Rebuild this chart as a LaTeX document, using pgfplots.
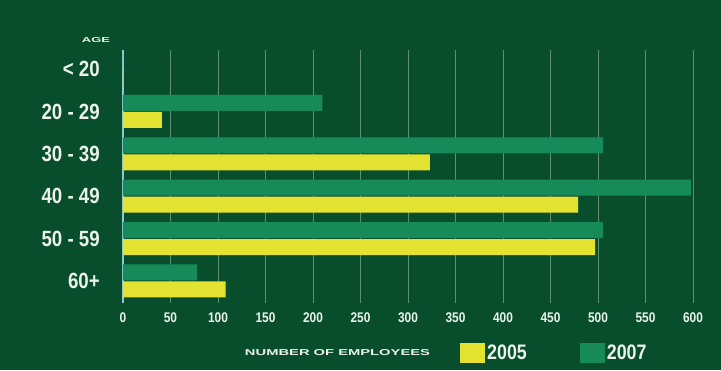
\documentclass[border=0pt]{standalone}
\usepackage{fontspec}
\setmainfont{Liberation Sans}
\newfontfamily\cf{Liberation Sans}[FakeStretch=0.85]
\usepackage{pgfplots}
\pgfplotsset{compat=1.18}
\definecolor{bg}{RGB}{9,78,44}
\definecolor{gbar}{RGB}{22,138,88}
\definecolor{ybar}{RGB}{228,226,48}
\definecolor{gridc}{RGB}{95,145,110}
\definecolor{zeroc}{RGB}{140,200,205}
\definecolor{txt}{RGB}{235,242,235}
\begin{document}
\begin{tikzpicture}
\fill[bg] (-123pt,-67pt) rectangle (598pt,303pt);
\begin{axis}[
  scale only axis, width=570pt, height=253pt,
  xmin=0, xmax=600, ymin=-0.52, ymax=5.45,
  xbar, bar width=16pt,
  axis line style={draw=none},
  major tick length=0pt,
  xtick={50,100,...,600},
  extra x ticks={0},
  extra x tick style={grid style={draw=zeroc, line width=1.4pt}},
  xmajorgrids, grid style={draw=gridc, line width=0.8pt},
  ytick={0,...,5},
  yticklabels={60+, 50 - 59, 40 - 49, 30 - 39, 20 - 29, < 20},
  yticklabel style={anchor=east, inner sep=0pt, xshift=-23pt, text=txt, font=\cf\bfseries\fontsize{22}{22}\selectfont},
  xticklabel style={anchor=center, inner sep=0pt, yshift=-15pt, text=txt, font=\cf\bfseries\fontsize{14}{14}\selectfont},
  /pgf/number format/assume math mode=true,
  legend image code/.code={\fill[#1] (0pt,-10pt) rectangle (25pt,10pt);},
  legend style={at={(0.5912,-0.1976)}, anchor=west, draw=none, fill=none, inner sep=0pt,
    legend columns=2, /tikz/every even column/.append style={column sep=51pt},
    nodes={text=txt, font=\cf\bfseries\fontsize{21}{21}\selectfont, inner xsep=2pt, inner ysep=0pt}},
  legend cell align=left,
]
\addplot[fill=ybar, draw=none, bar shift=-8.5pt] coordinates {(0,5) (41,4) (323,3) (479,2) (497,1) (108,0)};
\addlegendentry{2005}
\addplot[fill=gbar, draw=none, bar shift=8.5pt] coordinates {(0,5) (210,4) (505,3) (598,2) (505,1) (78,0)};
\addlegendentry{2007}
\end{axis}
\node[text=txt, inner sep=0pt] at (-27pt,263pt) {\resizebox{28pt}{5pt}{\bfseries AGE}};
\node[text=txt, inner sep=0pt] at (214.5pt,-50pt) {\resizebox{185pt}{6pt}{\bfseries NUMBER OF EMPLOYEES}};
\pgfresetboundingbox
\useasboundingbox (-123pt,-67pt) rectangle (598pt,303pt);
\end{tikzpicture}
\end{document}
